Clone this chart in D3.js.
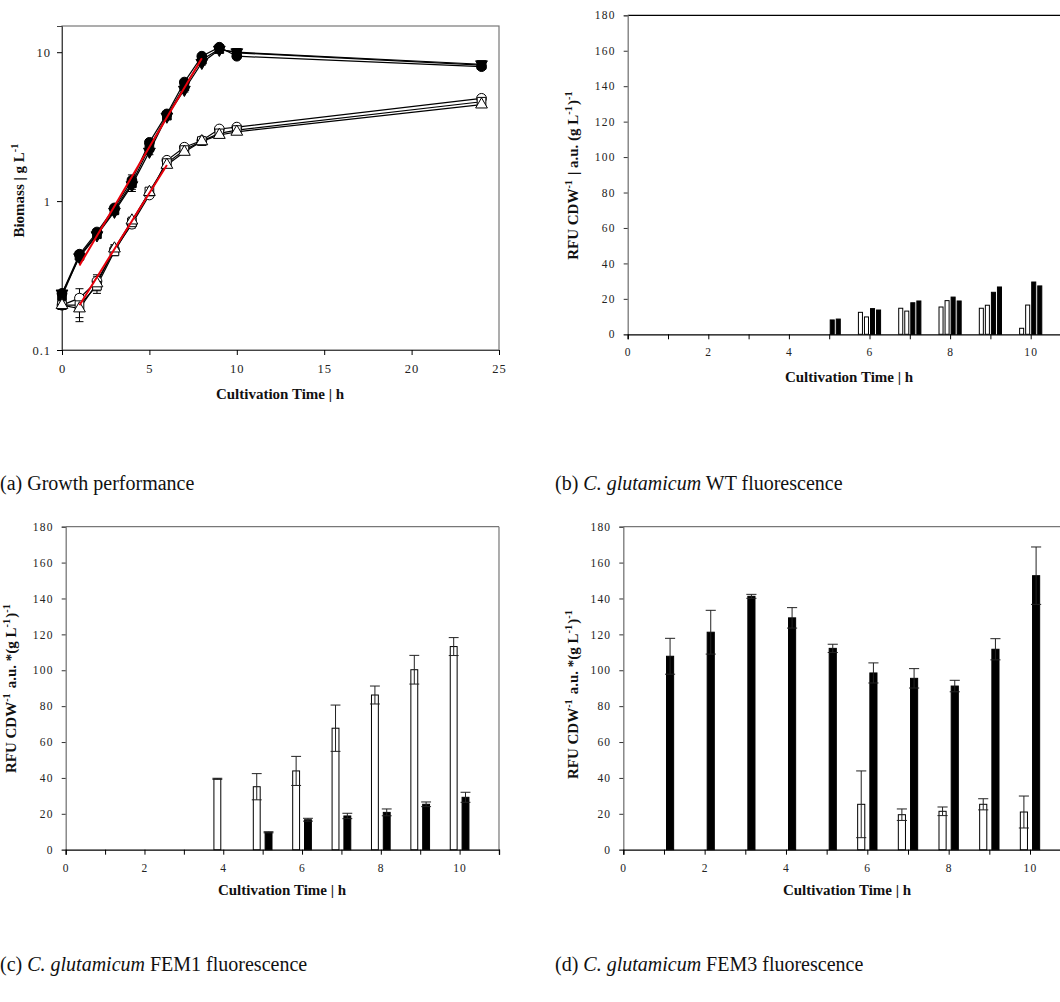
<!DOCTYPE html>
<html><head><meta charset="utf-8">
<script src="https://cdn.jsdelivr.net/npm/d3@7"></script>
<style>
body{margin:0;background:#fff;}
svg{display:block;}
.tick text{font-family:"Liberation Serif",serif;fill:#222;}
</style></head>
<body><svg id="c" width="1060" height="1002"></svg>
<script>
// ---------- Panel (a) data: biomass (g/L) ----------
const timesA = [0,1,2,3,4,5,6,7,8,9,10,24];
const upFilledCircle   = [0.24,0.44,0.62,0.90,1.38,2.48,3.85,6.3,9.4,10.8,9.4,8.0];
const upFilledSquare   = [0.23,0.43,0.60,0.87,1.32,2.30,3.75,5.9,8.9,10.5,9.9,8.2];
const upFilledTriangle = [0.24,0.42,0.59,0.85,1.28,2.15,3.70,5.6,8.5,10.4,10.0,8.3];
const lowOpenCircle    = [0.20,0.223,0.29,0.47,0.70,1.10,1.88,2.30,2.55,3.05,3.14,4.9];
const lowOpenSquare    = [0.20,0.20,0.27,0.46,0.72,1.16,1.80,2.20,2.53,2.85,3.00,4.65];
const lowOpenTriangle  = [0.20,0.19,0.28,0.48,0.74,1.15,1.75,2.14,2.52,2.78,2.92,4.45];
const errUp  = [0.01,0.02,0.03,0.04,0.12,0.10,0.10,0.20,0.3,0.2,0.2,0.2];
const errLow = [0.01,0.035,0.03,0.03,0.04,0.04,0.05,0.06,0.05,0.08,0.08,0.15];
const fitUpT = [1,8], fitUpV = [0.37,9.1];
const fitLowT = [1,6], fitLowV = [0.20,1.75];
const yTicksA = [0.1,1,10];
const xTicksA = [0,5,10,15,20,25];

// ---------- Panel (b) data: WT fluorescence ----------
const timesB = [5,6,7,8,9,10];
const wtWhite1 = [null,12.4,14.7,15.4,14.7,3.4];
const wtWhite2 = [null,9.8,13.1,19.0,16.4,16.5];
const wtBlack1 = [8.1,14.5,17.8,21.0,23.7,29.5];
const wtBlack2 = [8.6,13.7,18.8,18.8,26.7,27.3];

// ---------- Panel (c) data: FEM1 fluorescence ----------
const timesC = [4,5,6,7,8,9,10];
const fem1White   = [39.5,35.1,43.9,67.7,86.2,100.3,113.2];
const fem1WhiteSd = [0.3,7.3,8.1,12.9,5.0,8.0,5.0];
const fem1Black   = [null,9.7,16.7,18.8,20.8,25.3,29.2];
const fem1BlackSd = [null,0.3,0.8,1.5,1.9,1.3,2.8];

// ---------- Panel (d) data: FEM3 fluorescence ----------
const timesD = [1,2,3,4,5,6,7,8,9,10];
const fem3Black   = [107.8,121.2,141.2,129.2,112.2,98.5,95.5,91.2,111.7,152.7];
const fem3BlackSd = [10.0,12.2,1.1,5.7,2.3,5.6,5.4,3.2,5.9,16.0];
const fem3White   = [null,null,null,null,null,25.3,19.5,21.4,25.3,21.0];
const fem3WhiteSd = [null,null,null,null,null,18.6,3.2,2.4,3.1,8.9];

const yTicksBar = d3.range(0,181,20);
const xTicksBar = d3.range(0,12,1);

const captions = [
  {pre:"(a) ", it:"", post:"Growth performance", x:0, y:490},
  {pre:"(b) ", it:"C. glutamicum", post:" WT fluorescence", x:555, y:490},
  {pre:"(c) ", it:"C. glutamicum", post:" FEM1 fluorescence", x:0, y:971},
  {pre:"(d) ", it:"C. glutamicum", post:" FEM3 fluorescence", x:555, y:971}
];

const svg = d3.select("#c");
const SERIF = "Liberation Serif, Times New Roman, serif";
const GRAY = "#777";
const TS = 15;

function titleText(g, parts, x, y, rotate, size){
  const t = g.append("text").attr("font-family",SERIF).attr("font-weight","bold")
    .attr("font-size",size).attr("text-anchor","middle").attr("fill","#111")
    .attr("transform", `translate(${x},${y})` + (rotate?" rotate(-90)":""));
  parts.forEach(p=>{
    if(p.sup){ t.append("tspan").attr("font-size",size*0.68).attr("dy",-size*0.38).text(p.t);
               t.append("tspan").attr("font-size",size).attr("dy",size*0.38).text("\u200A"); }
    else t.append("tspan").text(p.t);
  });
  return t;
}

// ================= Panel (a) =================
(function(){
  const L=62,R=499,T=26,B=350;
  const x = d3.scaleLinear().domain([0,25]).range([L,R]);
  const y = d3.scaleLog().domain([0.1,15]).range([B,T]);
  const g = svg.append("g");
  g.append("rect").attr("x",L).attr("y",T).attr("width",R-L).attr("height",B-T)
    .attr("fill","none").attr("stroke",GRAY).attr("stroke-width",1.2);
  const ya = g.append("g").attr("transform",`translate(${L},0)`)
    .call(d3.axisLeft(y).tickValues(yTicksA).tickFormat(d=>d3.format("~g")(d)).tickSize(5).tickPadding(6));
  ya.select(".domain").attr("stroke","#444");
  ya.selectAll("text").attr("font-size",12.5).attr("letter-spacing","1px");
  const xa = g.append("g").attr("transform",`translate(0,${B})`)
    .call(d3.axisBottom(x).tickValues(xTicksA).tickSize(5).tickPadding(9));
  xa.select(".domain").attr("stroke","#444");
  xa.selectAll("text").attr("font-size",12.5).attr("letter-spacing","1px");

  const series = [
    {v:upFilledCircle, sym:d3.symbolCircle, fill:"#000", rot:0, err:errUp},
    {v:upFilledSquare, sym:d3.symbolSquare, fill:"#000", rot:0, err:errUp},
    {v:upFilledTriangle, sym:d3.symbolTriangle, fill:"#000", rot:180, err:errUp},
    {v:lowOpenCircle, sym:d3.symbolCircle, fill:"#fff", rot:0, err:errLow},
    {v:lowOpenSquare, sym:d3.symbolSquare, fill:"#fff", rot:0, err:errLow},
    {v:lowOpenTriangle, sym:d3.symbolTriangle, fill:"#fff", rot:0, err:errLow}
  ];
  const line = d3.line().x(d=>x(d[0])).y(d=>y(d[1]));
  series.forEach(s=>{
    const pts = timesA.map((t,i)=>[t,s.v[i]]);
    g.append("path").attr("d",line(pts)).attr("fill","none").attr("stroke","#000").attr("stroke-width",1.2);
  });
  series.forEach(s=>{
    timesA.forEach((t,i)=>{
      const v=s.v[i], e=s.err[i];
      const cx=x(t);
      g.append("line").attr("x1",cx).attr("x2",cx).attr("y1",y(v-e)).attr("y2",y(v+e)).attr("stroke","#000");
      [v-e,v+e].forEach(vv=>g.append("line").attr("x1",cx-4).attr("x2",cx+4).attr("y1",y(vv)).attr("y2",y(vv)).attr("stroke","#000"));
    });
  });
  series.forEach(s=>{
    const sym = d3.symbol().type(s.sym).size(s.sym===d3.symbolTriangle?60:75);
    timesA.forEach((t,i)=>{
      g.append("path").attr("d",sym()).attr("transform",`translate(${x(t)},${y(s.v[i])}) rotate(${s.rot})`)
        .attr("fill",s.fill).attr("stroke","#000").attr("stroke-width",1);
    });
  });
  [[fitUpT,fitUpV],[fitLowT,fitLowV]].forEach(([ts,vs])=>{
    g.append("path").attr("d",line(ts.map((t,i)=>[t,vs[i]]))).attr("fill","none")
      .attr("stroke","#e8000b").attr("stroke-width",2);
  });
  titleText(g,[{t:"Cultivation Time | h"}],280,399,false,TS);
  titleText(g,[{t:"Biomass | g L"},{t:"-1",sup:true}],24,190,true,TS);
})();

// ================= Bar panel helper =================
function barPanel(opt){
  const {L,T,B,unit,topStroke,rightStroke} = opt;
  const x = d3.scaleLinear().domain([0,11]).range([L,L+11*unit]);
  const y = d3.scaleLinear().domain([0,180]).range([B,T]);
  const g = svg.append("g");
  const xr = L+11*unit;
  g.append("line").attr("x1",L).attr("x2",xr).attr("y1",T).attr("y2",T).attr("stroke",topStroke).attr("stroke-width",1.2);
  if(rightStroke) g.append("line").attr("x1",xr).attr("x2",xr).attr("y1",T).attr("y2",B).attr("stroke",rightStroke).attr("stroke-width",1.2);
  const ya = g.append("g").attr("transform",`translate(${L},0)`)
    .call(d3.axisLeft(y).tickValues(yTicksBar).tickSize(4).tickPadding(8));
  ya.select(".domain").attr("stroke",GRAY).attr("stroke-width",1.3);
  ya.selectAll("line").attr("stroke","#333");
  ya.selectAll("text").attr("font-size",11.5).attr("letter-spacing","1.2px");
  const xa = g.append("g").attr("transform",`translate(0,${B})`)
    .call(d3.axisBottom(x).tickValues(xTicksBar).tickFormat(d=>d%2===0?d:"").tickSize(5).tickPadding(9));
  xa.select(".domain").attr("stroke","#000").attr("stroke-width",1.3);
  xa.selectAll("text").attr("font-size",11.5).attr("letter-spacing","1.2px");

  const bars = g.append("g");
  const errs = g.append("g");
  opt.series.forEach(s=>{
    opt.times.forEach((t,i)=>{
      const v=s.v[i]; if(v==null) return;
      const x0 = x(t+s.off-s.w/2), x1 = x(t+s.off+s.w/2);
      bars.append("rect").attr("x",x0+0.5).attr("y",y(v)).attr("width",x1-x0-1).attr("height",y(0)-y(v))
        .attr("fill",s.fill).attr("stroke","#000").attr("stroke-width",1);
      if(s.sd){
        const sd=s.sd[i]; const cx=(x0+x1)/2; const hw=(x1-x0)/2+1;
        const col = "#222";
        errs.append("line").attr("x1",cx).attr("x2",cx).attr("y1",y(Math.max(0,v-sd))).attr("y2",y(v+sd)).attr("stroke",col);
        [v-sd,v+sd].forEach(vv=>errs.append("line").attr("x1",cx-hw).attr("x2",cx+hw).attr("y1",y(vv)).attr("y2",y(vv)).attr("stroke",col));
      }
    });
  });
  titleText(g,[{t:"Cultivation Time | h"}],opt.xtx,opt.xty,false,TS);
  titleText(g,opt.ytitle,opt.ytx,opt.yty,true,TS);
}

// (b)
barPanel({L:627.7,T:15.3,B:334.3,unit:40.3,topStroke:"#000",times:timesB,
  series:[
    {v:wtWhite1,fill:"#fff",off:-0.225,w:0.125},
    {v:wtWhite2,fill:"#fff",off:-0.075,w:0.125},
    {v:wtBlack1,fill:"#000",off:0.075,w:0.125},
    {v:wtBlack2,fill:"#000",off:0.225,w:0.125}],
  xtx:849,xty:382,ytx:578,yty:175,
  ytitle:[{t:"RFU CDW"},{t:"-1",sup:true},{t:" | a.u. (g L"},{t:"-1",sup:true},{t:")"},{t:"-1",sup:true}]});

// (c)
barPanel({L:65.7,T:526.7,B:849.7,unit:39.39,topStroke:GRAY,rightStroke:GRAY,times:timesC,
  series:[
    {v:fem1White,sd:fem1WhiteSd,fill:"#fff",off:-0.15,w:0.2},
    {v:fem1Black,sd:fem1BlackSd,fill:"#000",off:0.15,w:0.2}],
  xtx:282,xty:895,ytx:16,yty:688,
  ytitle:[{t:"RFU CDW"},{t:"-1",sup:true},{t:" a.u. *(g L"},{t:"-1",sup:true},{t:")"},{t:"-1",sup:true}]});

// (d)
barPanel({L:623.3,T:526.7,B:849.7,unit:40.67,topStroke:GRAY,times:timesD,
  series:[
    {v:fem3White,sd:fem3WhiteSd,fill:"#fff",off:-0.15,w:0.2},
    {v:fem3Black,sd:fem3BlackSd,fill:"#000",off:0.15,w:0.2}],
  xtx:847,xty:895,ytx:578,yty:694,
  ytitle:[{t:"RFU CDW"},{t:"-1",sup:true},{t:" a.u. *(g L"},{t:"-1",sup:true},{t:")"},{t:"-1",sup:true}]});

// captions
captions.forEach(c=>{
  const t = svg.append("text").attr("x",c.x).attr("y",c.y).attr("font-family",SERIF)
    .attr("font-size",20).attr("fill","#111");
  t.append("tspan").text(c.pre);
  if(c.it) t.append("tspan").attr("font-style","italic").text(c.it);
  t.append("tspan").text(c.post);
});
</script></body></html>
